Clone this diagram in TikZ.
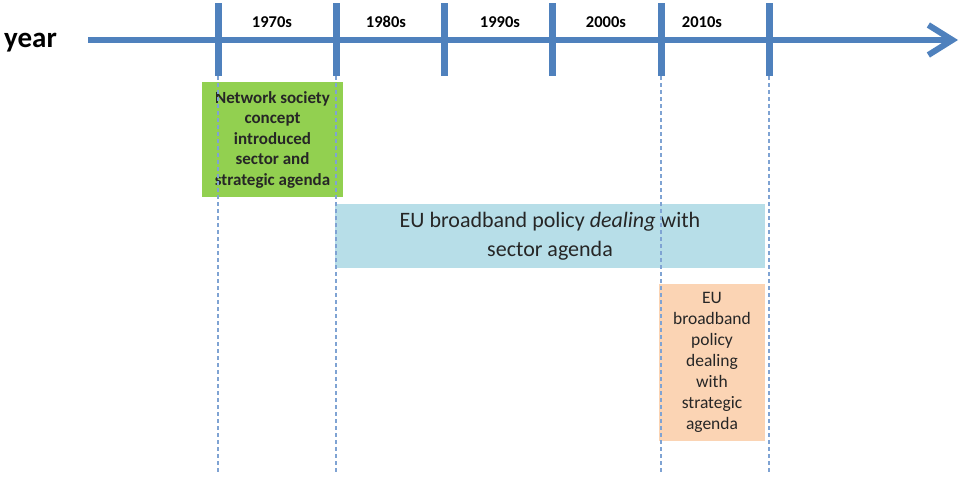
\documentclass[tikz,border=0pt]{standalone}
\usepackage{fontspec}
\setmainfont{Carlito}
\usepackage{tikz}
\usetikzlibrary{arrows.meta}

\definecolor{axisblue}{HTML}{4F81BD}
\definecolor{dotblue}{HTML}{7FA3D3}
\definecolor{netgreen}{HTML}{92D050}
\definecolor{sectorblue}{HTML}{B7DEE8}
\definecolor{stratpeach}{HTML}{FBD4B4}

\begin{document}
\begin{tikzpicture}[x=1pt,y=-1pt,
  axis/.style={line width=6pt,draw=axisblue,-{Straight Barb[length=24pt,width=30pt]}},
  tick/.style={line width=7pt,draw=axisblue},
  guide/.style={line width=1.6pt,draw=dotblue,dash pattern=on 4pt off 3pt},
  decade/.style={font=\fontsize{16.5}{16.5}\selectfont\bfseries,inner sep=0pt},
  box/.style={inner sep=0pt,align=center,text=black!85}]
  \useasboundingbox (0,0) rectangle (960,477);

  % boxes
  \node[box,fill=netgreen,minimum width=141pt,minimum height=115pt,
    font=\fontsize{17}{20.5}\selectfont\bfseries] (network) at (272.5,139.5)
    {Network society\\concept\\introduced\\sector and\\strategic agenda};
  \node[box,fill=sectorblue,minimum width=430pt,minimum height=64pt,
    font=\fontsize{22}{29}\selectfont] (sector) at (550,236)
    {EU broadband policy \textit{dealing} with\\sector agenda};
  \node[box,fill=stratpeach,minimum width=106pt,minimum height=157pt,
    font=\fontsize{17.5}{21}\selectfont] (strategic) at (712,362.5)
    {EU\\broadband\\policy\\dealing\\with\\strategic\\agenda};

  % time axis
  \coordinate (start) at (88,40);
  \coordinate (end) at (958,40);
  \draw[axis] (start) -- (end);
  \node[anchor=base west,inner sep=0pt,font=\fontsize{29}{29}\selectfont\bfseries] (year) at (4,47) {year};

  \foreach \i/\x in {1/218,2/336,3/444,4/552,5/661,6/769} {
    \coordinate (t\i top) at (\x,3);
    \coordinate (t\i) at (\x,76);
    \draw[tick] (t\i top) -- (t\i);
  }
  \foreach \i in {1,2,5,6} {
    \coordinate (g\i) at ([yshift=-396pt]t\i);
    \draw[guide] (t\i) -- (g\i);
  }

  \foreach \x/\xtext in {272/1970s,386/1980s,500/1990s,606/2000s,702/2010s}
    \node[decade] (d\xtext) at (\x,22) {\xtext};

\end{tikzpicture}
\end{document}
